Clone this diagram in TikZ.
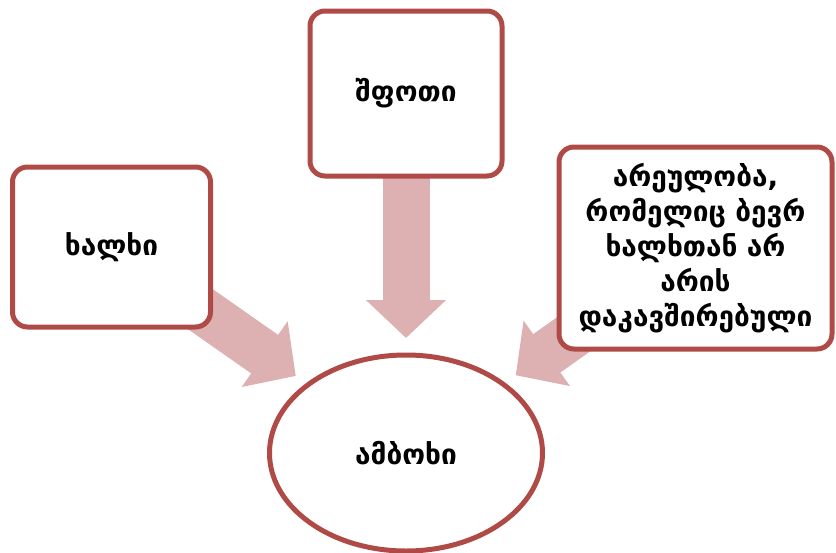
\documentclass[tikz,border=0pt]{standalone}
\usepackage{fontspec}
\setmainfont{DejaVu Sans}
\usetikzlibrary{arrows.meta,backgrounds,shapes.geometric}
\definecolor{boxred}{HTML}{B04A46}
\definecolor{arrowpink}{HTML}{DDB1B1}

\begin{document}
\begin{tikzpicture}[x=1pt, y=-1pt,
  box/.style={draw=boxred, line width=5pt, fill=white, rounded corners=15pt, align=center, font=\fontsize{28}{35}\selectfont\bfseries},
  goalshape/.style={ellipse, draw=boxred, line width=5pt, fill=white, font=\fontsize{28}{35}\selectfont\bfseries},
  bigarrow/.style={draw=arrowpink, line width=47pt, -{Triangle[length=38pt, width=78pt]}}]
 	\useasboundingbox (0,0) rectangle (836,552);
 	
 	% Define the boxes
 	\node[box, minimum width=198pt, minimum height=160pt] (people) at (111.5,247) {ხალხი};
 	\node[box, minimum width=192pt, minimum height=165pt] (unrest) at (406,93.5) {შფოთი};
 	\node[box, minimum width=273pt, minimum height=202pt, text width=250pt] (disorder) at (695.5,248) {არეულობა,\\ რომელიც ბევრ\\ ხალხთან არ\\ არის\\ დაკავშირებული};
 	\node[goalshape, minimum width=273pt, minimum height=196pt] (riot) at (406,453) {ამბოხი};
 	
 	% Draw the arrows
 	\begin{scope}[on background layer]
 	\draw[bigarrow, shorten >=134.5pt] (people.center) -- (riot.center);
 	\draw[bigarrow, shorten >=115pt] (unrest.center) -- (riot.center);
 	\draw[bigarrow, shorten >=134.5pt] (disorder.center) -- (riot.center);
 	\end{scope}
\end{tikzpicture}
\end{document}
